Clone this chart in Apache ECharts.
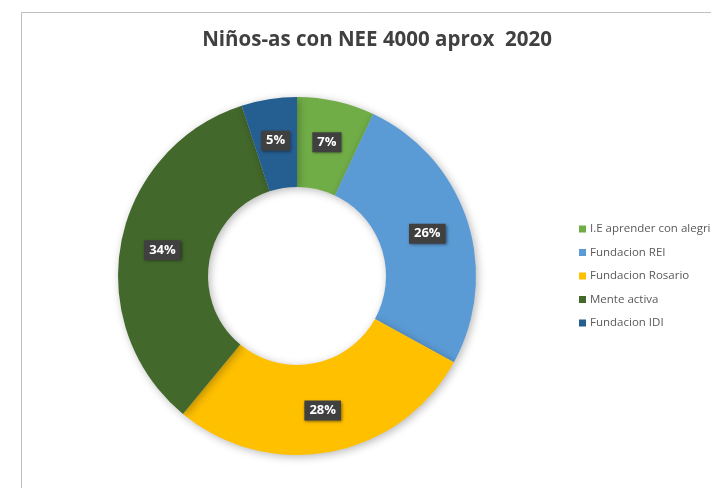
<!DOCTYPE html>
<html>
<head>
<meta charset="utf-8">
<script src="https://cdn.jsdelivr.net/npm/echarts@6/dist/echarts.min.js"></script>
<style>
  html, body { margin: 0; padding: 0; background: #fff; }
  #chart { width: 711px; height: 488px; }
</style>
</head>
<body>
<div id="chart"></div>
<script>
const categories = ['I.E aprender con alegria', 'Fundacion REI', 'Fundacion Rosario', 'Mente activa', 'Fundacion IDI'];
const shares = [7, 26, 28, 34, 5];
const sliceColors = ['#70AD47', '#5B9BD5', '#FFC000', '#43682B', '#255E91'];

const chart = echarts.init(document.getElementById('chart'));

chart.setOption({
  backgroundColor: '#fff',
  animation: false,
  color: sliceColors,
  title: {
    text: 'Niños-as con NEE 4000 aprox  2020',
    left: 372,
    top: 25,
    textAlign: 'center',
    textStyle: {
      fontFamily: 'Open Sans',
      fontSize: 20.5,
      fontWeight: 'bold',
      color: '#404040'
    }
  },
  legend: {
    orient: 'vertical',
    left: 574,
    top: 218,
    itemWidth: 7,
    itemHeight: 7,
    itemGap: 11.5,
    icon: 'rect',
    textStyle: { fontFamily: 'Open Sans', fontSize: 11.5, color: '#595959', padding: [0, 0, 0, -1] },
    data: categories
  },
  graphic: [{
    type: 'polyline',
    shape: { points: [[21.5, 500], [21.5, 12.5], [720, 12.5]] },
    style: { stroke: '#BFBFBF', lineWidth: 1, fill: null },
    silent: true
  }],
  series: [{
    type: 'pie',
    center: [297, 276],
    radius: [89, 179],
    startAngle: 90,
    clockwise: true,
    avoidLabelOverlap: false,
    itemStyle: {
      shadowBlur: 8,
      shadowOffsetX: 2,
      shadowOffsetY: 2,
      shadowColor: 'rgba(0,0,0,0.28)'
    },
    label: {
      show: true,
      position: 'inside',
      formatter: (p) => p.value + '%',
      fontFamily: 'Open Sans',
      fontSize: 13,
      fontWeight: 'bold',
      color: '#fff',
      backgroundColor: '#404040',
      padding: [4, 5, 3, 5],
      shadowBlur: 3,
      shadowOffsetX: 1,
      shadowOffsetY: 1,
      shadowColor: 'rgba(0,0,0,0.5)'
    },
    labelLine: { show: false },
    emphasis: { disabled: true },
    data: categories.map((name, i) => ({ name, value: shares[i] }))
  }]
});
</script>
</body>
</html>
